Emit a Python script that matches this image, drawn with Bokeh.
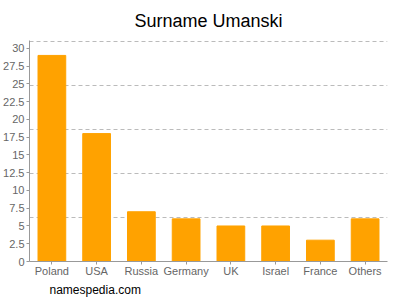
from bokeh.plotting import figure
from bokeh.models import FixedTicker, Title, ColumnDataSource, Range1d
from bokeh.embed import file_html
from bokeh.resources import INLINE

countries = ["Poland", "USA", "Russia", "Germany", "UK", "Israel", "France", "Others"]
counts = [29, 18, 7, 6, 5, 5, 3, 6]
y_ticks = [0, 2.5, 5, 7.5, 10, 12.5, 15, 17.5, 20, 22.5, 25, 27.5, 30]
grid_values = [6.2, 12.4, 18.6, 24.8, 31.0]

src = ColumnDataSource(dict(x=countries, top=counts))

p = figure(x_range=countries, y_range=Range1d(0, 31.1), width=400, height=300,
           output_backend="svg", toolbar_location=None,
           min_border_left=27, min_border_right=13, min_border_top=40, min_border_bottom=39)
p.title.text = "Surname Umanski"
p.title.align = "center"
p.title.vertical_align = "top"
p.title.text_font = "Liberation Sans"
p.title.text_font_size = "18px"
p.title.text_font_style = "normal"
p.title.text_color = "#000000"
p.title.standoff = 15

p.vbar(x="x", top="top", width=0.62, source=src, color="#ffa200")

p.x_range.range_padding = 0
p.outline_line_color = None
p.background_fill_color = "white"

p.yaxis.ticker = FixedTicker(ticks=y_ticks)
p.ygrid.ticker = FixedTicker(ticks=grid_values)
p.ygrid.grid_line_color = "#bbbbbb"
p.ygrid.grid_line_dash = "4 3"
p.xgrid.grid_line_color = None

for ax in (p.xaxis, p.yaxis):
    ax.axis_line_color = "#999999"
    ax.major_tick_line_color = "#999999"
    ax.minor_tick_line_color = None
    ax.major_label_text_color = "#666666"
    ax.major_label_text_font = "Liberation Sans"
    ax.major_label_text_font_size = "11px"
    ax.major_tick_out = 3
    ax.major_tick_in = 0
p.yaxis.major_label_standoff = 2
p.xaxis.major_label_standoff = 0

foot = Title(text="namespedia.com", align="left", offset=20, standoff=2,
             text_font="Liberation Sans", text_font_size="12px",
             text_font_style="normal", text_color="#000000")
p.add_layout(foot, "below")

open("out.html", "w").write(file_html(p, INLINE))
